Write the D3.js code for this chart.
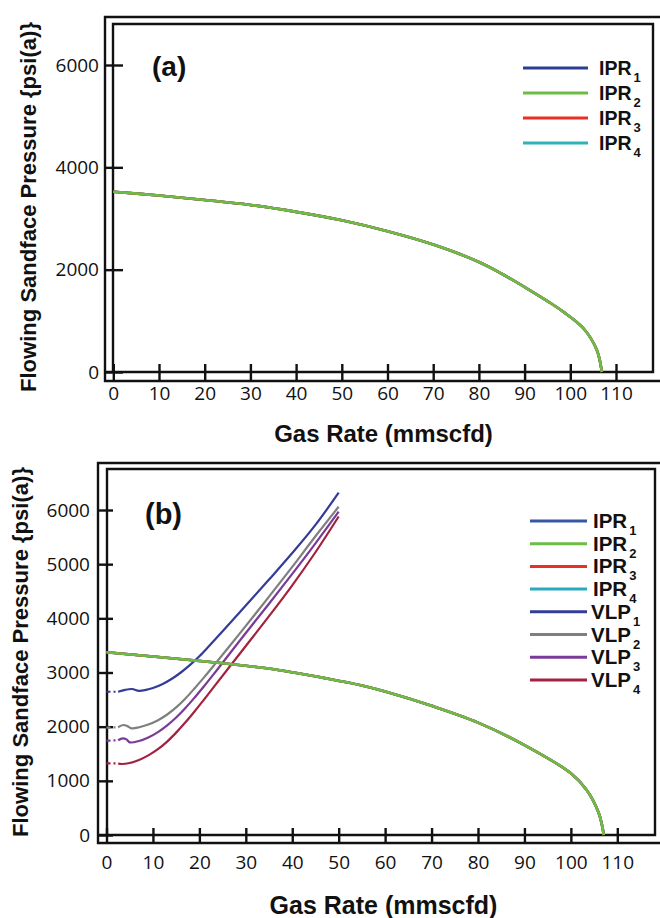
<!DOCTYPE html>
<html><head><meta charset="utf-8">
<script src="https://cdn.jsdelivr.net/npm/d3@7"></script>
<style>body{margin:0;background:#fff}svg{display:block}</style>
</head><body>
<svg id="c" width="660" height="918"></svg>
<script>
// ---------- data ----------
const qTicks = [0,10,20,30,40,50,60,70,80,90,100,110];
const pTicksA = [0,2000,4000,6000];
const pTicksB = [0,1000,2000,3000,4000,5000,6000];

// IPR curve, panel (a)  [gas rate, pressure]
const iprA = [[0,3524],[10,3450],[20,3362],[30,3265],[40,3130],[50,2965],[60,2750],[70,2490],[80,2150],[85,1920],[90,1660],[95,1385],[98.5,1175],[102.9,850],[105.8,430],[106.9,0]];
// IPR curve, panel (b)
const iprB = [[0,3373],[18,3231],[34.5,3077],[48,2880],[55,2760],[60,2650],[70,2385],[80,2075],[90,1661],[100,1139],[103.4,831],[106,406],[107.1,0]];

// VLP curves, panel (b)
const vlp1 = [[0,2645],[2.5,2645],[4,2680],[5.5,2695],[7,2662],[8.5,2680],[10,2715],[12,2785],[14,2880],[16,3000],[18,3140],[20,3300],[22,3480],[25,3760],[30,4235],[35,4715],[40,5205],[45,5725],[50,6320]];
const vlp2 = [[0,1981],[2.5,1990],[3.6,2031],[4.5,2010],[5.4,1970],[7,1990],[9,2040],[11,2115],[13,2220],[15,2355],[17,2520],[19,2710],[21,2910],[23.4,3160],[27,3540],[30,3860],[35,4400],[40,4950],[45,5515],[50,6060]];
const vlp3 = [[0,1741],[2.5,1750],[3.5,1785],[4.3,1765],[5,1710],[7,1735],[9,1800],[11,1895],[13,2020],[15,2170],[17,2345],[19,2540],[21,2745],[23,2960],[25,3180],[30,3730],[35,4270],[40,4820],[45,5385],[50,5970]];
const vlp4 = [[0,1323],[2.5,1320],[3.2,1311],[5,1330],[7,1385],[9,1470],[11,1580],[13,1720],[15,1890],[17,2080],[19,2285],[21,2500],[23,2720],[26,3050],[30,3490],[35,4040],[40,4610],[45,5220],[50,5880]];
const vlpDashEnd = [2.5,2.5,2.5,2.5];

const iprNames = ["IPR","IPR","IPR","IPR"];
const iprSubs = ["1","2","3","4"];
const vlpNames = ["VLP","VLP","VLP","VLP"];
const vlpSubs = ["1","2","3","4"];
const iprColors = ["#2a3f91","#6cbd45","#ec2f25","#2db4b9"];
const iprColorsB = ["#3856a6","#6cbd45","#ec2f25","#2aa9bf"];
const vlpColors = ["#333c96","#7f7f7f","#7a3a9a","#a3223f"];

// ---------- drawing ----------
const svg = d3.select("#c");
const INK = "#111";
const TITLE_FONT = "'Liberation Sans', Arial, sans-serif";
const TICK_FONT = "'Open Sans', 'Noto Sans', sans-serif";

function drawPanel(c){
  const g = svg.append("g");
  const x = d3.scaleLinear().domain([0,110]).range(c.xr);
  const y = d3.scaleLinear().domain([0,6000]).range(c.yr);

  const fr = g.append("g").attr("fill","none").attr("stroke",INK).attr("stroke-width",2.4);
  fr.append("path").attr("d",`M660,${c.ot}H${c.ol}V${c.ob}H660`);
  fr.append("path").attr("d",`M${c.ol},${c.ib}H${c.ir}V${c.it}H${c.il}V${c.ib}`);

  // y axis
  const ya = g.append("g").attr("transform",`translate(${c.ytEnd},0)`)
    .call(d3.axisLeft(y).tickValues(c.pTicks).tickSize(c.ytEnd-c.ol).tickPadding(c.ypad).tickFormat(d3.format("d")));
  ya.select(".domain").remove();
  ya.selectAll("line").attr("stroke",INK).attr("stroke-width",2.4);
  ya.selectAll("text").attr("font-family",TICK_FONT).attr("font-size",19).attr("fill",INK);

  // x axis
  const xa = g.append("g").attr("transform",`translate(0,${c.xtTop})`)
    .call(d3.axisBottom(x).tickValues(qTicks).tickSize(c.ob-c.xtTop).tickPadding(c.xpad).tickFormat(d3.format("d")));
  xa.select(".domain").remove();
  xa.selectAll("line").attr("stroke",INK).attr("stroke-width",2.4);
  xa.selectAll("text").attr("font-family",TICK_FONT).attr("font-size",19).attr("fill",INK);

  const line = d3.line().x(d=>x(d[0])).y(d=>y(d[1])).curve(d3.curveCatmullRom.alpha(0.5));

  // VLP curves
  if(c.vlps){
    c.vlps.forEach((v,i)=>{
      const cut = vlpDashEnd[i];
      g.append("path").datum(v.filter(d=>d[0]<=cut)).attr("d",line)
        .attr("fill","none").attr("stroke",vlpColors[i]).attr("stroke-width",2.2)
        .attr("stroke-dasharray","4,3,2,3");
      g.append("path").datum(v.filter(d=>d[0]>=cut)).attr("d",line)
        .attr("fill","none").attr("stroke",vlpColors[i]).attr("stroke-width",2.2);
    });
  }
  // IPR curves (identical, drawn in order so green ends on top)
  [0,3,2,1].forEach(i=>{
    g.append("path").datum(c.ipr).attr("d",line)
      .attr("fill","none").attr("stroke",c.iprCols[i]).attr("stroke-width",2.6);
  });

  // legend
  const leg = g.append("g");
  c.legend.forEach((e,i)=>{
    const ly = c.legY0 + i*c.legDy;
    leg.append("line").attr("x1",c.legX1).attr("x2",c.legX2).attr("y1",ly).attr("y2",ly)
      .attr("stroke",e.color).attr("stroke-width",3);
    const t = leg.append("text").attr("x",c.legTx - (e.name==="VLP"?2:0)).attr("y",ly+7)
      .attr("font-family",TITLE_FONT).attr("font-weight","bold").attr("font-size",c.legFs).attr("fill",INK);
    t.append("tspan").text(e.name);
    t.append("tspan").attr("dx",2).attr("dy",7).attr("font-size",13).text(e.sub);
  });

  // panel label
  g.append("text").attr("x",c.lab[0]).attr("y",c.lab[1]).attr("font-family",TITLE_FONT)
    .attr("font-weight","bold").attr("font-size",c.labFs).attr("fill",INK).text(c.label);

  // axis titles
  g.append("text").attr("x",383.5).attr("y",c.xtitleY).attr("text-anchor","middle")
    .attr("font-family",TITLE_FONT).attr("font-weight","bold").attr("font-size",c.xtitleFs)
    .attr("fill",INK).text("Gas Rate (mmscfd)");
  g.append("text").attr("transform",`translate(${c.ytitleX},${c.ytitleCy}) rotate(-90)`)
    .attr("text-anchor","middle").attr("font-family",TITLE_FONT).attr("font-weight","bold")
    .attr("font-size",22).attr("fill",INK)
    .attr("textLength",370).attr("lengthAdjust","spacingAndGlyphs")
    .text("Flowing Sandface Pressure {psi(a)}");
}

drawPanel({
  ol:105, ot:17, ob:381, il:113, it:24, ir:653, ib:372,
  xr:[113.3,616], yr:[372,65], pTicks:pTicksA,
  ytEnd:123, ypad:6, xtTop:364, xpad:6,
  ipr:iprA, iprCols:iprColors,
  legend: iprNames.map((n,i)=>({name:n, sub:iprSubs[i], color:iprColors[i]})),
  legY0:68, legDy:25, legX1:523, legX2:588, legTx:599, legFs:19.5,
  label:"(a)", lab:[152,76], labFs:28,
  xtitleY:442, xtitleFs:24, ytitleX:36, ytitleCy:207
});

drawPanel({
  ol:98, ot:463, ob:843, il:107, it:469, ir:655, ib:835,
  xr:[106.5,617.3], yr:[835,510], pTicks:pTicksB,
  ytEnd:113, ypad:8, xtTop:828, xpad:13,
  ipr:iprB, iprCols:iprColorsB,
  vlps:[vlp1,vlp2,vlp3,vlp4],
  legend: iprNames.map((n,i)=>({name:n, sub:iprSubs[i], color:iprColorsB[i]}))
    .concat(vlpNames.map((n,i)=>({name:n, sub:vlpSubs[i], color:vlpColors[i]}))),
  legY0:521, legDy:22.7, legX1:530, legX2:587, legTx:593, legFs:20.5,
  label:"(b)", lab:[145,524], labFs:29,
  xtitleY:914, xtitleFs:25, ytitleX:28, ytitleCy:652
});
</script>
</body></html>
